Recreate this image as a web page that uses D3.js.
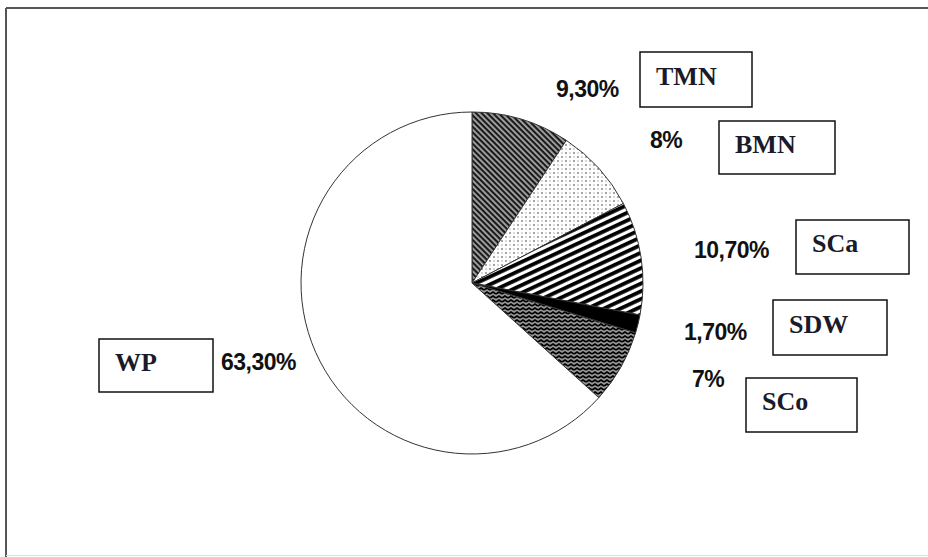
<!DOCTYPE html>
<html>
<head>
<meta charset="utf-8">
<script src="https://cdn.jsdelivr.net/npm/d3@7"></script>
<style>
  html, body { margin: 0; padding: 0; background: #fff; }
  svg { display: block; }
</style>
</head>
<body>
<div id="chart"></div>
<script>
// data
const categories = ['TMN', 'BMN', 'SCa', 'SDW', 'SCo', 'WP'];
const shares = [9.3, 8, 10.7, 1.7, 7, 63.3];
const shareLabels = ['9,30%', '8%', '10,70%', '1,70%', '7%', '63,30%'];

// where each annotation sits (box + percentage text)
const boxPos = [
  {x: 640, y: 52, w: 112, h: 55},
  {x: 719, y: 121, w: 116, h: 53},
  {x: 796, y: 220, w: 113, h: 54},
  {x: 773, y: 300, w: 114, h: 55},
  {x: 746, y: 378, w: 111, h: 54},
  {x: 99, y: 339, w: 114, h: 53}
];
const pctPos = [
  {x: 556, y: 97},
  {x: 650, y: 148},
  {x: 694, y: 258},
  {x: 684, y: 340},
  {x: 692, y: 387},
  {x: 221, y: 370}
];

const option = {
  width: 928,
  height: 557,
  cx: 472,
  cy: 283,
  radius: 171
};

const svg = d3.select('#chart').append('svg')
    .attr('width', option.width)
    .attr('height', option.height);

// fill patterns
const defs = svg.append('defs');

const tmn = defs.append('pattern')
    .attr('id', 'p-tmn')
    .attr('patternUnits', 'userSpaceOnUse')
    .attr('width', 4).attr('height', 4)
    .attr('patternTransform', 'rotate(45)');
tmn.append('rect').attr('width', 4).attr('height', 4).attr('fill', '#aaa');
tmn.append('rect').attr('width', 4).attr('height', 2.2).attr('fill', '#1a1a1a');

const bmn = defs.append('pattern')
    .attr('id', 'p-bmn')
    .attr('patternUnits', 'userSpaceOnUse')
    .attr('width', 8).attr('height', 8);
bmn.append('rect').attr('width', 8).attr('height', 8).attr('fill', '#fff');
bmn.append('circle').attr('cx', 2).attr('cy', 2).attr('r', 1).attr('fill', '#888');
bmn.append('circle').attr('cx', 6).attr('cy', 6).attr('r', 1).attr('fill', '#888');
bmn.append('circle').attr('cx', 6).attr('cy', 2).attr('r', 0.8).attr('fill', '#aaa');
bmn.append('circle').attr('cx', 2).attr('cy', 6).attr('r', 0.8).attr('fill', '#aaa');

const sca = defs.append('pattern')
    .attr('id', 'p-sca')
    .attr('patternUnits', 'userSpaceOnUse')
    .attr('width', 7).attr('height', 7)
    .attr('patternTransform', 'rotate(-25)');
sca.append('rect').attr('width', 7).attr('height', 7).attr('fill', '#fff');
sca.append('rect').attr('width', 7).attr('height', 3.8).attr('fill', '#000');

const sco = defs.append('pattern')
    .attr('id', 'p-sco')
    .attr('patternUnits', 'userSpaceOnUse')
    .attr('width', 6).attr('height', 4);
sco.append('rect').attr('width', 6).attr('height', 4).attr('fill', '#999');
sco.append('path')
    .attr('d', 'M0,3 L3,1 L6,3')
    .attr('fill', 'none')
    .attr('stroke', '#000')
    .attr('stroke-width', 1.7);

const fills = ['url(#p-tmn)', 'url(#p-bmn)', 'url(#p-sca)', '#000', 'url(#p-sco)', '#fff'];

// frame
svg.append('line')
    .attr('x1', 6).attr('y1', 8).attr('x2', 6).attr('y2', 557)
    .attr('stroke', '#555').attr('stroke-width', 2);
svg.append('line')
    .attr('x1', 6).attr('y1', 8).attr('x2', 928).attr('y2', 8)
    .attr('stroke', '#555').attr('stroke-width', 2);
svg.append('line')
    .attr('x1', 6).attr('y1', 555.5).attr('x2', 928).attr('y2', 555.5)
    .attr('stroke', '#ddd').attr('stroke-width', 1);

// pie
const pie = d3.pie().sort(null).value((d) => d.value);
const arc = d3.arc().innerRadius(0).outerRadius(option.radius);
const slices = pie(categories.map((c, i) => ({name: c, value: shares[i]})));

svg.append('g')
    .attr('transform', 'translate(' + option.cx + ',' + option.cy + ')')
    .selectAll('path')
    .data(slices)
    .enter()
    .append('path')
    .attr('d', arc)
    .attr('fill', (d, i) => fills[i])
    .attr('stroke', '#333')
    .attr('stroke-width', 1);

// percentage labels
svg.append('g')
    .selectAll('text')
    .data(shareLabels)
    .enter()
    .append('text')
    .attr('x', (d, i) => pctPos[i].x)
    .attr('y', (d, i) => pctPos[i].y)
    .attr('font-family', 'Liberation Sans, Arial, sans-serif')
    .attr('font-weight', 'bold')
    .attr('font-size', 23)
    .attr('letter-spacing', -0.5)
    .attr('fill', '#111')
    .text((d) => d);

// category boxes
const boxes = svg.append('g')
    .selectAll('g')
    .data(categories)
    .enter()
    .append('g')
    .attr('transform', (d, i) => 'translate(' + boxPos[i].x + ',' + boxPos[i].y + ')');

boxes.append('rect')
    .attr('width', (d, i) => boxPos[i].w)
    .attr('height', (d, i) => boxPos[i].h)
    .attr('fill', '#fff')
    .attr('stroke', '#111')
    .attr('stroke-width', 1.5);

boxes.append('text')
    .attr('x', 16)
    .attr('y', (d, i) => boxPos[i].h * 0.6)
    .attr('font-family', 'Liberation Serif, Times New Roman, serif')
    .attr('font-weight', 'bold')
    .attr('font-size', 26)
    .attr('fill', '#1a1a2a')
    .text((d) => d);
</script>
</body>
</html>
